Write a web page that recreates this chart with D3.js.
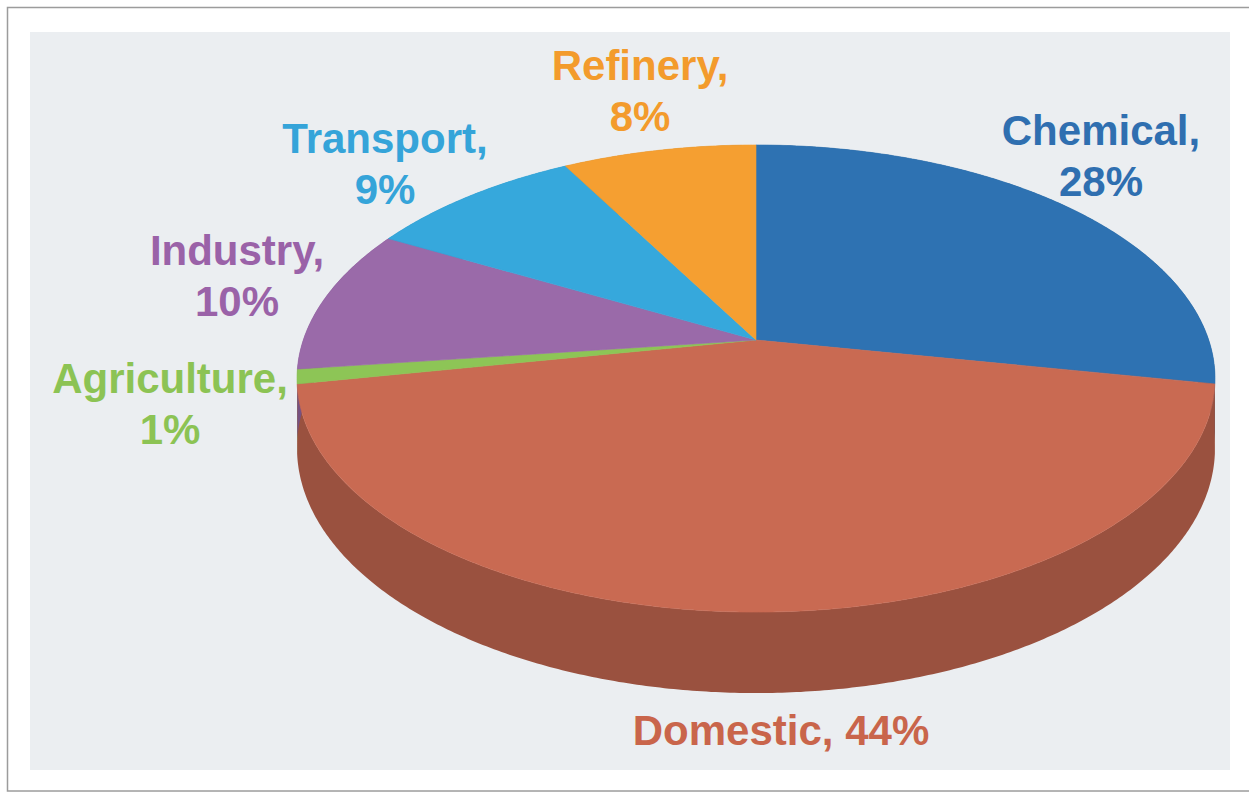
<!DOCTYPE html>
<html>
<head>
<meta charset="utf-8">
<script src="https://cdn.jsdelivr.net/npm/d3@7"></script>
<style>
  body { margin: 0; background: #ffffff; }
  text { font-family: "Liberation Sans", Arial, sans-serif; font-weight: bold; }
</style>
</head>
<body>
<div class="chart"></div>
<script>
// data
var sectors = ["Chemical", "Domestic", "Agriculture", "Industry", "Transport", "Refinery"];
var shares = [28, 44, 1, 10, 9, 8];
var sliceColors = ["#2e72b2", "#c96a52", "#8dc556", "#9a6aa9", "#36a8dc", "#f59f31"];
var labelColors = ["#2f6fb0", "#c9654b", "#8cc354", "#9a62a8", "#35a4d9", "#f39b2c"];

var svgWidth = 1249;
var svgHeight = 793;

var svg = d3.select(".chart")
  .append("svg")
  .attr("width", svgWidth)
  .attr("height", svgHeight);

// frame and panel
svg.append("rect")
  .attr("x", 7.5).attr("y", 7.5)
  .attr("width", 1260).attr("height", 783.5)
  .attr("fill", "#ffffff")
  .attr("stroke", "#9c9c9c")
  .attr("stroke-width", 1.5);

svg.append("rect")
  .attr("x", 30).attr("y", 32)
  .attr("width", 1200).attr("height", 738)
  .attr("fill", "#ebeef1");

// perspective pie geometry
var cx = 756, cy = 340;   // apex where slices meet
var A = 452.7, B = 227.2; // radii
var k = 0.165;            // perspective strength
var depth = 67.6;         // thickness

function proj(a, z) {
  var u = Math.sin(a), v = -Math.cos(a);
  var w = 1 - k * v;
  return [cx + A * u / w, cy + (B * v + z) / w];
}

function rim(a0, a1, z) {
  var pts = [];
  var n = Math.max(2, Math.ceil((a1 - a0) / (Math.PI / 360)));
  for (var i = 0; i <= n; i++) {
    pts.push(proj(a0 + (a1 - a0) * i / n, z));
  }
  return pts;
}

var color = d3.scaleOrdinal().domain(sectors).range(sliceColors);
var labelColor = d3.scaleOrdinal().domain(sectors).range(labelColors);

var pie = d3.pie().sort(null).value(d => d.value);
var arcs = pie(sectors.map((s, i) => ({ name: s, value: shares[i] })));

var line = d3.line();
var chartGroup = svg.append("g");

// side walls
chartGroup.selectAll(".side")
  .data(arcs)
  .enter()
  .append("path")
  .attr("class", "side")
  .attr("d", function (d) {
    var top = rim(d.startAngle, d.endAngle, 0);
    var bottom = rim(d.startAngle, d.endAngle, depth).reverse();
    return line(top.concat(bottom)) + "Z";
  })
  .attr("fill", d => d3.color(color(d.data.name)).darker(0.75));

// top faces
chartGroup.selectAll(".top")
  .data(arcs)
  .enter()
  .append("path")
  .attr("class", "top")
  .attr("d", d => line([[cx, cy]].concat(rim(d.startAngle, d.endAngle, 0))) + "Z")
  .attr("fill", d => color(d.data.name))
  .attr("stroke", d => color(d.data.name))
  .attr("stroke-width", 0.6);

// labels
var labelLayout = [
  { x: 1101, y: 145, lines: ["Chemical,", "28%"] },
  { x: 781, y: 745, lines: ["Domestic, 44%"] },
  { x: 170, y: 393, lines: ["Agriculture,", "1%"] },
  { x: 237, y: 265, lines: ["Industry,", "10%"] },
  { x: 385, y: 153, lines: ["Transport,", "9%"] },
  { x: 640, y: 80, lines: ["Refinery,", "8%"] }
];

labelLayout.forEach(function (l, i) {
  var t = svg.append("text")
    .attr("x", l.x)
    .attr("y", l.y)
    .attr("text-anchor", "middle")
    .style("font-size", "42px")
    .style("fill", labelColor(sectors[i]));
  l.lines.forEach(function (s, j) {
    t.append("tspan")
      .attr("x", l.x)
      .attr("dy", j === 0 ? 0 : 51)
      .text(s);
  });
});
</script>
</body>
</html>
